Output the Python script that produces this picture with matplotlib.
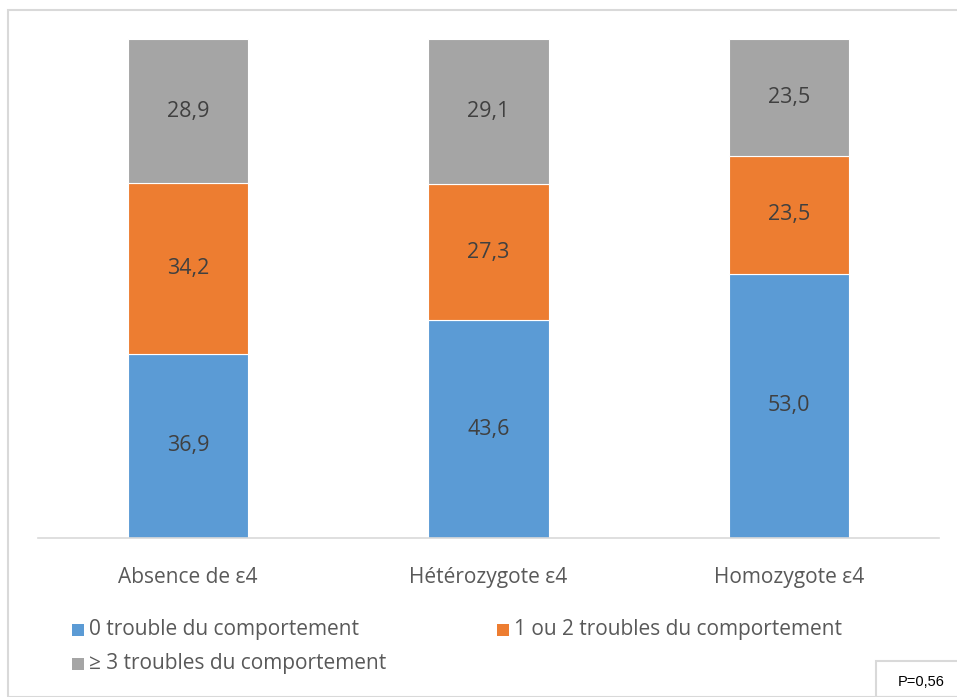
import matplotlib.pyplot as plt
from matplotlib.patches import Rectangle

# Data
categories = ['Absence de ε4', 'Hétérozygote ε4', 'Homozygote ε4']
series_names = ['0 trouble du comportement', '1 ou 2 troubles du comportement',
                '≥ 3 troubles du comportement']
zero = [36.9, 43.6, 53.0]
one_two = [34.2, 27.3, 23.5]
three_plus = [28.9, 29.1, 23.5]
p_value = 'P=0,56'

colors = ['#5b9bd5', '#ed7d31', '#a5a5a5']
plt.rcParams['font.family'] = ['Open Sans', 'DejaVu Sans']

fig = plt.figure(figsize=(9.57, 6.97), dpi=100)
W, H = 957, 697
ax = fig.add_axes([38 / W, 1 - 538 / H, (939 - 38) / W, 499 / H])

x = range(len(categories))
bottom = [0, 0, 0]
for vals, col in zip([zero, one_two, three_plus], colors):
    bars = ax.bar(x, vals, width=0.4, bottom=bottom, color=col,
                  edgecolor='white', linewidth=0.8)
    for b, v, bt in zip(bars, vals, bottom):
        ax.text(b.get_x() + b.get_width() / 2, bt + v / 2,
                f'{v:.1f}'.replace('.', ','), ha='center', va='center',
                fontsize=15.5, color='#404040')
    bottom = [bt + v for bt, v in zip(bottom, vals)]

ax.set_xlim(-0.5, 2.5)
ax.set_ylim(0, 100)
ax.set_yticks([])
ax.set_xticks(list(x))
ax.set_xticklabels(categories, fontsize=15, color='#595959')
ax.tick_params(axis='x', length=0, pad=21)
for s in ['top', 'right', 'left']:
    ax.spines[s].set_visible(False)
ax.spines['bottom'].set_color('#d9d9d9')
ax.spines['bottom'].set_linewidth(1.2)

# legend drawn by hand: two entries on the first row, one on the second
legend_pos = [(72, 630), (497, 630), (72, 664)]
for name, col, (lx, ly) in zip(series_names, colors, legend_pos):
    fig.patches.append(Rectangle((lx / W, 1 - (ly + 6) / H), 12 / W, 12 / H,
                                 transform=fig.transFigure, facecolor=col,
                                 edgecolor='none'))
    fig.text((lx + 17) / W, 1 - ly / H, name, ha='left', va='center',
             fontsize=15, color='#595959')

# outer frame and p-value box
fig.patches.append(Rectangle((8 / W, 0), 1, 1 - 10 / H, transform=fig.transFigure,
                             fill=False, edgecolor='#d9d9d9', linewidth=1.5))
fig.patches.append(Rectangle((876 / W, 0), 1, 1 - 661 / H, transform=fig.transFigure,
                             fill=False, edgecolor='#d9d9d9', linewidth=1.5))
fig.text(921 / W, 1 - 682 / H, p_value, ha='center', va='center',
         fontsize=10.5, family='Liberation Sans', color='black')

fig.savefig('out.png', dpi=100)
